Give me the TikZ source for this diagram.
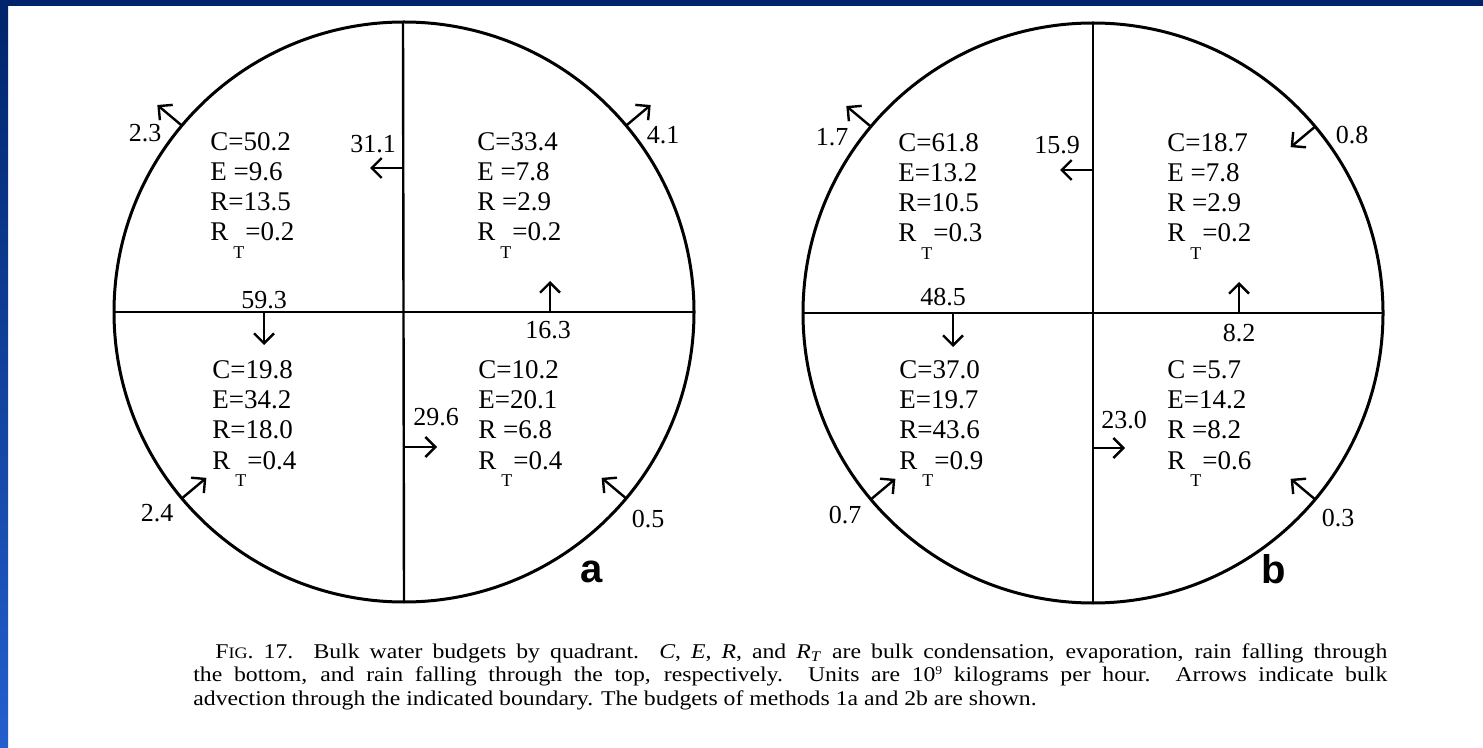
\documentclass[tikz,border=0pt]{standalone}
\usepackage{fontspec}
\setmainfont{Liberation Serif}
\newfontfamily\panelfont{Liberation Sans}
\newfontfamily\capfont[FakeStretch=1.13]{Liberation Serif}
\usetikzlibrary{arrows.meta,calc}

\definecolor{slidenavy}{RGB}{0,36,107}
\definecolor{slideblue}{RGB}{35,95,205}
% R with the T hanging low, as in the scan
\newcommand{\rsubt}{R\kern2.5pt\raisebox{-9pt}{\fontsize{9}{9}\selectfont T}\kern0.5pt}

\begin{document}
\begin{tikzpicture}[
  x=0.5pt, y=-0.5pt,
  rim/.style={line width=1.5pt},
  split/.style={line width=1.2pt},
  flux/.style={line width=1.2pt,-{Straight Barb[length=5pt,width=10pt]}},
  budget/.style={align=left,inner sep=0pt,anchor=base west,
                 font=\fontsize{13.5}{15}\selectfont},
  num/.style={inner sep=0pt,font=\fontsize{13}{15}\selectfont},
  panel/.style={inner sep=0pt,font=\panelfont\bfseries\fontsize{20}{20}\selectfont},
  caption/.style={align=left,inner sep=0pt,anchor=base west,
                  font=\capfont\fontsize{10.5}{11.75}\selectfont}
]
\useasboundingbox (0,0) rectangle (1483,748);
\fill[white] (0,0) rectangle (1483,748);
\fill[slidenavy] (0,0) rectangle (1483,6);
\shade[top color=slidenavy,bottom color=slideblue] (0,0) rectangle (8,748);

% panel a
\coordinate (ca) at (404,312);
\draw[rim] (ca) circle[radius=290];
\draw[split] (ca) ++(-290,0) -- ++(580,0);
\draw[split] (ca) ++(-1,-290) -- ++(1,580);

% base = last line
\node[budget] (qa1) at (210,241) {C=50.2\\E~=9.6\\R=13.5\\\rsubt=0.2};
\node[budget] (qa2) at (477,241) {C=33.4\\E~=7.8\\R~=2.9\\\rsubt=0.2};
\node[budget] (qa3) at (212,469) {C=19.8\\E=34.2\\R=18.0\\\rsubt=0.4};
\node[budget] (qa4) at (478,469) {C=10.2\\E=20.1\\R~=6.8\\\rsubt=0.4};

\draw[flux] (ca) ++(-2,-144) -- ++(-32,0);
\draw[flux] (ca) ++(-140,0) -- ++(0,33);
\draw[flux] (ca) ++(0,135) -- ++(33,0);
\draw[flux] (ca) ++(146,0) -- ++(0,-31);
\draw[flux] (ca) ++(-140:290) -- ++(-140:32);
\draw[flux] (ca) ++(-40:290) -- ++(-40:32);
\draw[flux] (ca) ++(40:290) -- ++(220:32);
\draw[flux] (ca) ++(140:290) -- ++(-40:32);

\node[num] (fa1) at (373,144) {31.1};
\node[num] (fa2) at (264,300) {59.3};
\node[num] (fa3) at (436,417) {29.6};
\node[num] (fa4) at (548,330) {16.3};
\node[num] (fa5) at (145,133) {2.3};
\node[num] (fa6) at (663,135) {4.1};
\node[num] (fa7) at (648,519) {0.5};
\node[num] (fa8) at (157,513) {2.4};
\node[panel] (pa) at (592,572) {a};

% panel b
\coordinate (cb) at (1093,313);
\draw[rim] (cb) circle[radius=290];
\draw[split] (cb) ++(-290,0) -- ++(580,0);
\draw[split] (cb) ++(0,-290) -- ++(0,580);

\node[budget] (qb1) at (898,242) {C=61.8\\E=13.2\\R=10.5\\\rsubt=0.3};
\node[budget] (qb2) at (1167,242) {C=18.7\\E~=7.8\\R~=2.9\\\rsubt=0.2};
\node[budget] (qb3) at (899,469) {C=37.0\\E=19.7\\R=43.6\\\rsubt=0.9};
\node[budget] (qb4) at (1167,469) {C~=5.7\\E=14.2\\R~=8.2\\\rsubt=0.6};

\draw[flux] (cb) ++(0,-143) -- ++(-33,0);
\draw[flux] (cb) ++(-140,0) -- ++(0,34);
\draw[flux] (cb) ++(0,135) -- ++(32,0);
\draw[flux] (cb) ++(146,0) -- ++(0,-31);
\draw[flux] (cb) ++(-140:290) -- ++(-140:32);
\draw[flux] (cb) ++(-40:290) -- ++(140:32);
\draw[flux] (cb) ++(40:290) -- ++(220:32);
\draw[flux] (cb) ++(140:290) -- ++(-40:32);

\node[num] (fb1) at (1057,145) {15.9};
\node[num] (fb2) at (943,297) {48.5};
\node[num] (fb3) at (1124,420) {23.0};
\node[num] (fb4) at (1239,333) {8.2};
\node[num] (fb5) at (832,137) {1.7};
\node[num] (fb6) at (1352,135) {0.8};
\node[num] (fb7) at (845,515) {0.7};
\node[num] (fb8) at (1338,518) {0.3};
\node[panel] (pb) at (1274,569) {b};

% caption, base = last line
\node[caption] (cap) at (193,705)
 {\hspace*{11pt}\makebox[586pt][s]{F{\fontsize{8}{8}\selectfont IG}. 17. Bulk water budgets by quadrant. \textit{C}, \textit{E}, \textit{R}, and \textit{R}\textsubscript{\textit{T}} are bulk condensation, evaporation, rain falling through}\\
  \makebox[597pt][s]{the bottom, and rain falling through the top, respectively. Units are 10{\fontsize{6}{6}\selectfont\raisebox{3.5pt}{9}} kilograms per hour. Arrows indicate bulk}\\
  advection through the indicated boundary. The budgets of methods 1a and 2b are shown.};
\end{tikzpicture}
\end{document}
